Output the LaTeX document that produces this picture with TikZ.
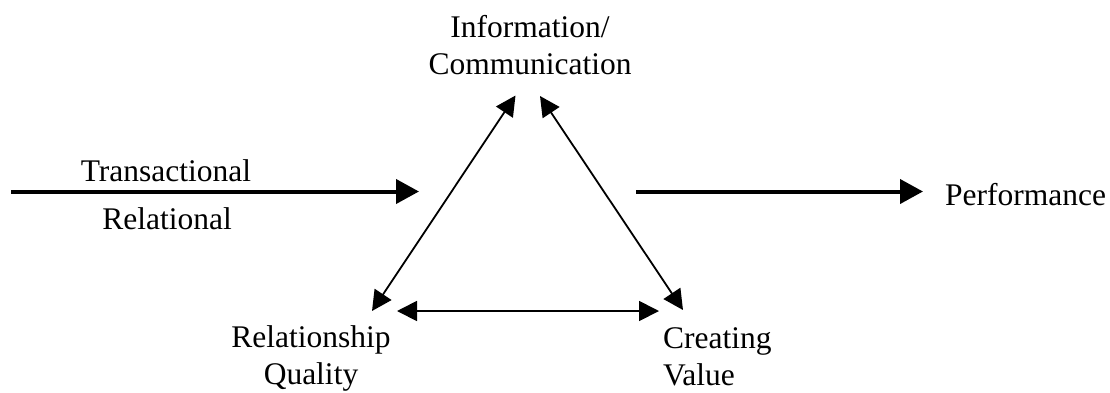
\documentclass[tikz,border=0pt]{standalone}
\usepackage{fontspec}
\setmainfont{Liberation Serif}
\usetikzlibrary{arrows.meta}
\begin{document}
\begin{tikzpicture}[x=1pt,y=-1pt,
  lbl/.style={font=\fontsize{31.5}{37}\selectfont, inner sep=0pt, align=center},
  biglink/.style={line width=4pt, -{Triangle[length=23pt,width=24pt]}},
  duallink/.style={line width=1.8pt, {Triangle[length=20pt,width=20pt]}-{Triangle[length=20pt,width=20pt]}}]
\useasboundingbox (0,0) rectangle (1110,392);
% labels (base anchor of a two-line node is the last line)
\node[lbl, anchor=base] (info) at (530,74) {Information/\\Communication};
\node[lbl, anchor=base] (trans) at (166,181) {Transactional};
\node[lbl, anchor=base] (rel) at (167,229) {Relational};
\node[lbl, anchor=base west] (perf) at (945,205) {Performance};
\node[lbl, anchor=base] (rq) at (311,384) {Relationship\\Quality};
\node[lbl, anchor=base west, align=left] (cv) at (663,385) {Creating\\Value};
% connector ends
\coordinate (inL) at (11,191.5);
\coordinate (inR) at (419,191.5);
\coordinate (outL) at (636,191.5);
\coordinate (outR) at (923,191.5);
\coordinate (topL) at (515.5,95.5);
\coordinate (topR) at (540,96);
\coordinate (blU) at (372,311);
\coordinate (brU) at (683,310);
\coordinate (bhL) at (397,311);
\coordinate (bhR) at (659,311);
% connectors
\draw[biglink] (inL) -- (inR);
\draw[biglink] (outL) -- (outR);
\draw[duallink] (blU) -- (topL);
\draw[duallink] (topR) -- (brU);
\draw[duallink] (bhL) -- (bhR);
\end{tikzpicture}
\end{document}
